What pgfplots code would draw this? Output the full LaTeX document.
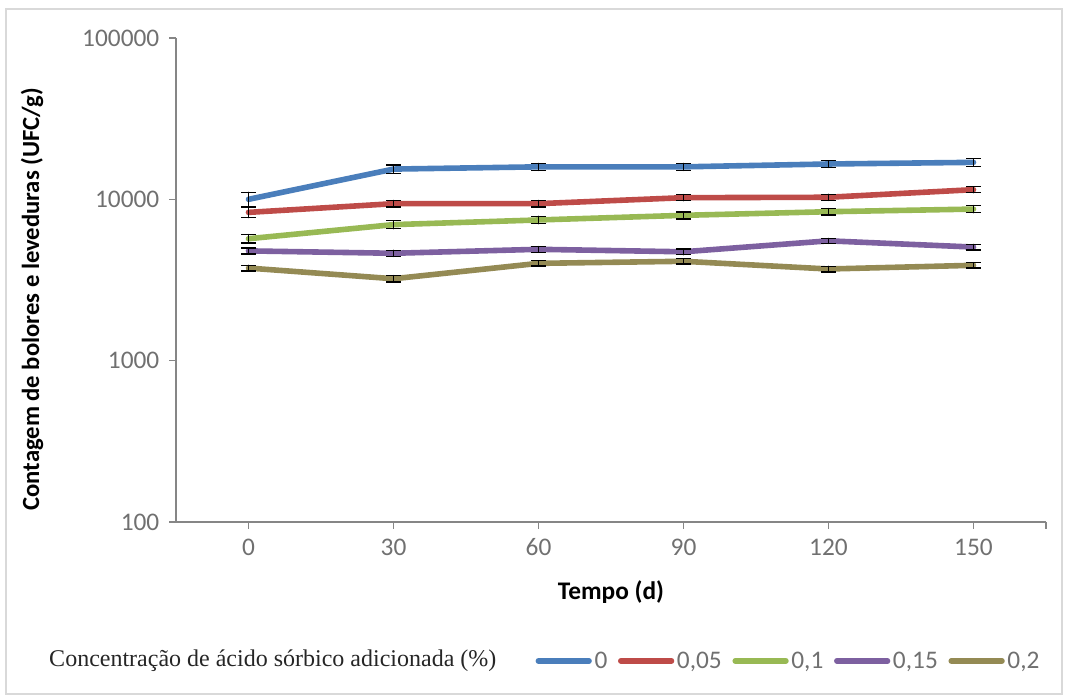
\documentclass[border=0pt]{standalone}
\usepackage{pgfplots}
\pgfplotsset{compat=1.18}
\usepackage{fontspec}
\setmainfont{Carlito}
\newfontfamily\serifleg{Liberation Serif}
\definecolor{cblue}{HTML}{4A7EBB}
\definecolor{cred}{HTML}{BE4B48}
\definecolor{cgreen}{HTML}{98B954}
\definecolor{cpurple}{HTML}{7D60A0}
\definecolor{colive}{HTML}{948A54}
\definecolor{axgray}{HTML}{868686}
\definecolor{txtgray}{HTML}{707070}
\definecolor{framegray}{HTML}{D9D9D9}
\begin{document}
\begin{tikzpicture}
\useasboundingbox (-132pt,-131.25pt) rectangle (666.75pt,391.5pt);
\draw[framegray, line width=0.8pt] (-127.5pt,-129pt) rectangle (664.5pt,384.75pt);
\begin{axis}[
  at={(0,0)}, anchor=south west,
  scale only axis,
  width=652.5pt, height=363pt,
  xmin=-15, xmax=165,
  ymode=log, ymin=100, ymax=100000,
  axis x line*=bottom, axis y line*=left,
  axis line style={axgray, line width=1pt, -},
  xtick={0,30,60,90,120,150},
  extra x ticks={165}, extra x tick labels={},
  ytick={100,1000,10000,100000},
  yticklabels={100,1000,10000,100000},
  yminorticks=false,
  /pgf/number format/assume math mode=true,
  tick align=outside,
  major tick length=5pt,
  tick style={axgray, line width=1pt},
  ticklabel style={font=\fontsize{19}{22}\selectfont, text=txtgray},
  xticklabel style={yshift=-4pt},
  yticklabel style={xshift=-4pt},
  xlabel={Tempo (d)},
  ylabel={Contagem de bolores e leveduras (UFC/g)},
  xlabel style={font=\fontsize{19}{22}\selectfont\bfseries, at={(axis description cs:0.5,0)}, anchor=center, yshift=-52.5pt},
  ylabel style={font=\fontsize{18.5}{21}\selectfont\bfseries, at={(axis description cs:-0.1655,0.46)}, anchor=center},
  error bars/error bar style={black, line width=1pt},
  error bars/error mark options={black, rotate=90, mark size=5.5pt, line width=1pt},
  legend columns=-1,
  legend image code/.code={\draw[#1, line width=4.2pt, line cap=round] (0pt,0pt) -- (38pt,0pt);},
  legend style={at={(axis description cs:0.413,-0.287)}, anchor=west, draw=none, fill=none,
    font=\fontsize{19}{22}\selectfont, text=txtgray, inner sep=0pt,
    /tikz/every even column/.append style={column sep=6pt}},
  clip=false,
]
\addplot[cblue, line width=4.2pt, line join=round, line cap=round, error bars/.cd, y dir=both, y explicit] coordinates {
  (0,10000) +- (0,1050) (30,15400) +- (0,900) (60,15900) +- (0,800) (90,15900) +- (0,800) (120,16560) +- (0,800) (150,16950) +- (0,900)};
\addlegendentry{0}
\addplot[cred, line width=4.2pt, line join=round, line cap=round, error bars/.cd, y dir=both, y explicit] coordinates {
  (0,8300) +- (0,600) (30,9400) +- (0,450) (60,9400) +- (0,450) (90,10240) +- (0,450) (120,10300) +- (0,450) (150,11480) +- (0,500)};
\addlegendentry{0,05}
\addplot[cgreen, line width=4.2pt, line join=round, line cap=round, error bars/.cd, y dir=both, y explicit] coordinates {
  (0,5700) +- (0,350) (30,6970) +- (0,400) (60,7450) +- (0,400) (90,7960) +- (0,400) (120,8380) +- (0,400) (150,8700) +- (0,450)};
\addlegendentry{0,1}
\addplot[cpurple, line width=4.2pt, line join=round, line cap=round, error bars/.cd, y dir=both, y explicit] coordinates {
  (0,4790) +- (0,200) (30,4630) +- (0,200) (60,4900) +- (0,200) (90,4730) +- (0,200) (120,5530) +- (0,200) (150,5060) +- (0,200)};
\addlegendentry{0,15}
\addplot[colive, line width=4.2pt, line join=round, line cap=round, error bars/.cd, y dir=both, y explicit] coordinates {
  (0,3750) +- (0,150) (30,3220) +- (0,150) (60,4010) +- (0,150) (90,4130) +- (0,150) (120,3700) +- (0,150) (150,3900) +- (0,150)};
\addlegendentry{0,2}
\node[anchor=west, font=\serifleg\fontsize{18}{21}\selectfont, text=black!85, inner sep=0pt] at (axis description cs:-0.146,-0.287) {Concentração de ácido sórbico adicionada (\%)};
\end{axis}
\end{tikzpicture}
\end{document}
